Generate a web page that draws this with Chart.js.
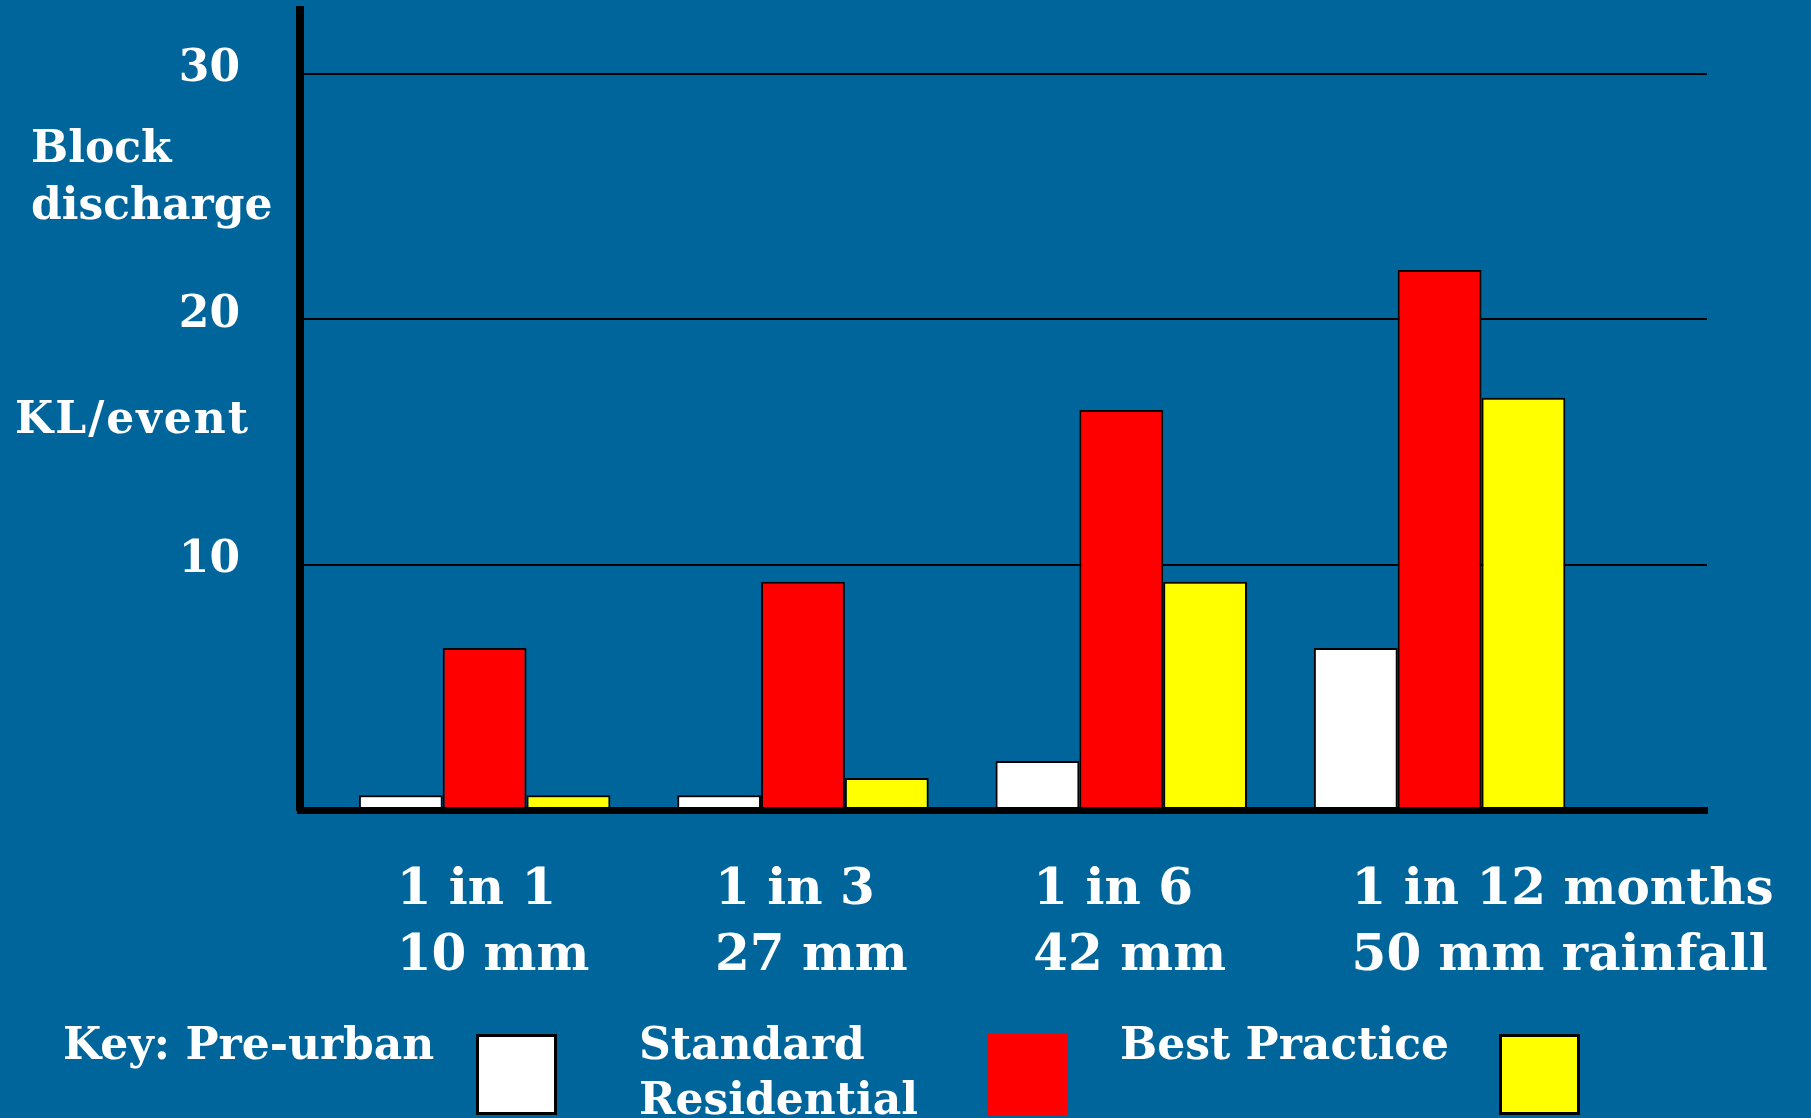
<!DOCTYPE html>
<html>
<head>
<meta charset="utf-8">
<script src="https://cdn.jsdelivr.net/npm/chart.js@4.4.1/dist/chart.umd.min.js"></script>
<style>
  html, body { margin: 0; padding: 0; background: #00659b; overflow: hidden; }
  #wrap { position: relative; width: 1811px; height: 1118px; }
  #chart { position: absolute; left: 0; top: 0; }
  .txt { position: absolute; color: #fff; font: bold 44px "DejaVu Serif"; line-height: 44px; white-space: nowrap; }
  .swatch { position: absolute; top: 1034px; width: 81px; height: 81px; box-sizing: border-box; }
</style>
</head>
<body>
<div id="wrap">
  <canvas id="chart" width="1811" height="1118"></canvas>

  <!-- y axis title -->
  <div class="txt" style="left:31px;top:125px">Block</div>
  <div class="txt" style="left:31px;top:182px">discharge</div>
  <div class="txt" style="left:15px;top:396px;letter-spacing:2px">KL/event</div>

  <!-- key -->
  <div class="txt" style="left:63px;top:1022px">Key: Pre-urban</div>
  <div class="swatch" id="sw0" style="left:476px;border:3px solid #000"></div>
  <div class="txt" style="left:639px;top:1022px">Standard</div>
  <div class="txt" style="left:639px;top:1077px">Residential</div>
  <div class="swatch" id="sw1" style="left:987px"></div>
  <div class="txt" style="left:1120px;top:1022px">Best Practice</div>
  <div class="swatch" id="sw2" style="left:1499px;border:3px solid #000"></div>
</div>

<script>
// rainfall events along the x axis
const rainEvents = [
  ['1 in 1', '10 mm'],
  ['1 in 3', '27 mm'],
  ['1 in 6', '42 mm'],
  ['1 in 12 months', '50 mm rainfall']
];
const eventPos = [1, 2, 3, 4];

// block discharge, KL per event
const preUrban     = [0.6, 0.6, 2.0, 6.6];
const standardRes  = [6.6, 9.3, 16.3, 22.0];
const bestPractice = [0.6, 1.3, 9.3, 16.8];

const yTicks = [0, 10, 20, 30];

const seriesColors = ['#ffffff', '#ff0000', '#ffff00'];
seriesColors.forEach(function(c, i){
  document.getElementById('sw' + i).style.background = c;
});

function toPoints(vals){
  return eventPos.map(function(x, i){ return { x: x, y: vals[i] }; });
}

const labelFont = { family: 'DejaVu Serif', weight: 'bold', size: 44 };

var ctx = document.getElementById('chart').getContext('2d');

var chart = new Chart(ctx, {
  type: 'bar',
  data: {
    datasets: [
      { label: 'Pre-urban', data: toPoints(preUrban), backgroundColor: seriesColors[0] },
      { label: 'Standard Residential', data: toPoints(standardRes), backgroundColor: seriesColors[1] },
      { label: 'Best Practice', data: toPoints(bestPractice), backgroundColor: seriesColors[2] }
    ]
  },
  options: {
    responsive: false,
    animation: false,
    layout: { padding: { top: 10, right: 104, left: 0, bottom: 0 } },
    datasets: {
      bar: {
        categoryPercentage: 0.79,
        barPercentage: 1,
        borderColor: '#000',
        borderWidth: 2,
        borderSkipped: false
      }
    },
    plugins: {
      legend: { display: false },
      tooltip: { enabled: false }
    },
    scales: {
      x: {
        type: 'linear',
        offset: false,
        min: 0.42,
        max: 4.84,
        afterBuildTicks: function(s){ s.ticks = eventPos.map(function(v){ return { value: v }; }); },
        afterFit: function(s){ s.height = 308; s.paddingLeft = 0; s.paddingRight = 0; },
        grid: { display: false, drawTicks: false, offset: false },
        border: { display: true, color: '#000', width: 7, z: 1 },
        ticks: {
          color: '#fff',
          font: { family: 'DejaVu Serif', weight: 'bold', size: 50, lineHeight: 1.32 },
          align: 'start',
          labelOffset: -88,
          padding: 48,
          maxRotation: 0,
          autoSkip: false,
          callback: function(v){ return rainEvents[eventPos.indexOf(v)]; }
        }
      },
      y: {
        min: 0,
        max: 32.6,
        afterBuildTicks: function(s){ s.ticks = yTicks.map(function(v){ return { value: v }; }); },
        afterFit: function(s){ s.width = 300; s.paddingTop = 0; s.paddingBottom = 0; },
        grid: { color: '#000', lineWidth: 2, drawTicks: false },
        border: { display: true, color: '#000', width: 8, z: 1 },
        ticks: {
          color: '#fff',
          font: labelFont,
          padding: 60,
          labelOffset: -4,
          callback: function(v){ return v === 0 ? '' : v; }
        }
      }
    }
  }
});
</script>
</body>
</html>
